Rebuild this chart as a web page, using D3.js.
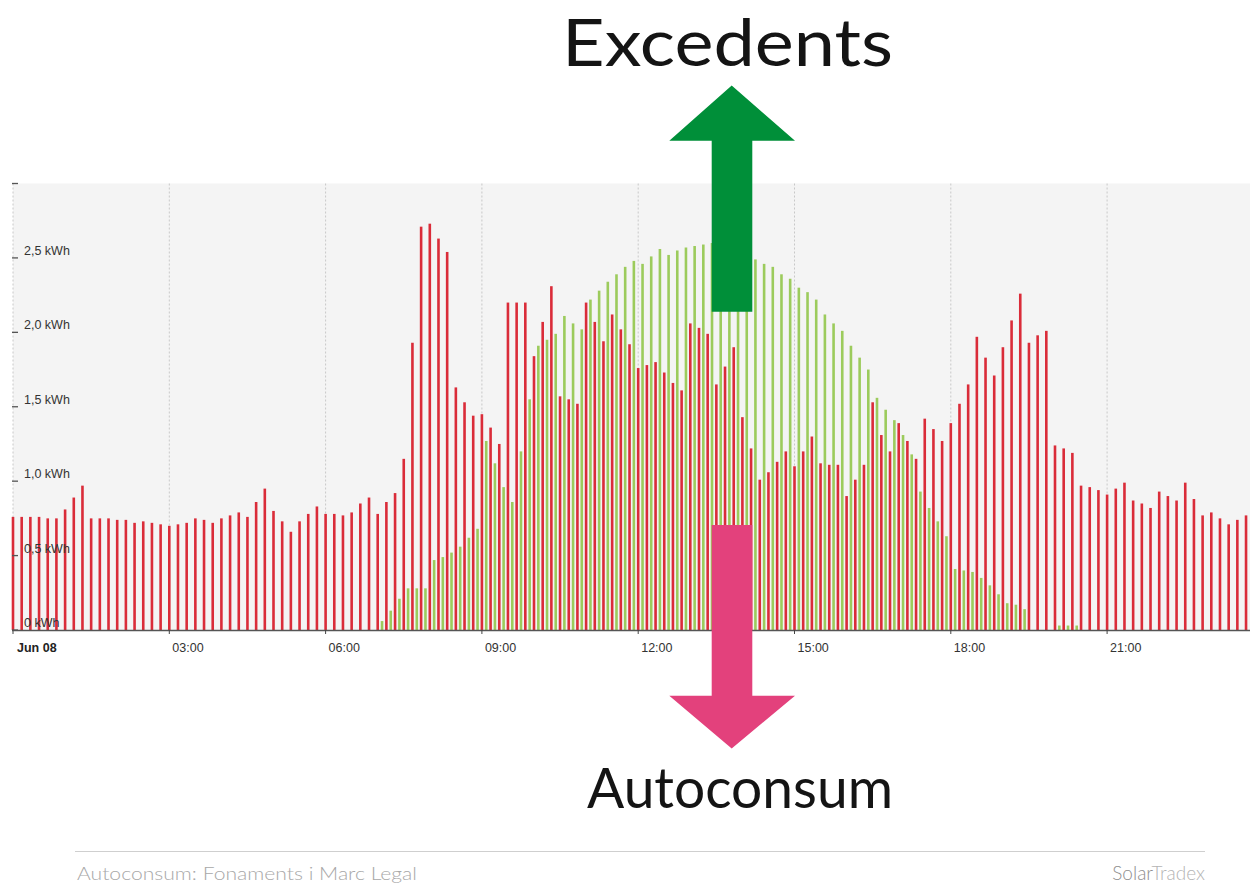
<!DOCTYPE html>
<html>
<head>
<meta charset="utf-8">
<script src="https://cdn.jsdelivr.net/npm/d3@7"></script>
<style>
  html, body { margin: 0; padding: 0; background: #ffffff; }
  svg { display: block; }
</style>
</head>
<body>
<svg id="chart" width="1250" height="885"></svg>
<script>
// ---------------- DATA (kWh per 10-minute slot, Jun 08) ----------------
// Consumption (red), slot 0 = 00:00, slot 143 = 23:50
const consumption = [
  0.76, 0.76, 0.76, 0.76, 0.75, 0.75, 0.81, 0.89, 0.97, 0.75, 0.75, 0.75, 0.74, 0.74, 0.72, 0.73, 0.72, 0.71,
  0.70, 0.71, 0.72, 0.75, 0.74, 0.72, 0.75, 0.77, 0.79, 0.76, 0.86, 0.95, 0.80, 0.73, 0.66, 0.73, 0.78, 0.83,
  0.78, 0.78, 0.77, 0.79, 0.85, 0.89, 0.78, 0.86, 0.92, 1.15, 1.93, 2.71, 2.73, 2.63, 2.54, 1.63, 1.53, 1.44,
  1.45, 1.36, 1.25, 2.20, 2.20, 2.20, 1.84, 2.07, 2.31, 1.57, 1.55, 1.52, 2.20, 2.07, 1.94, 2.12, 2.02, 1.92,
  1.76, 1.78, 1.80, 1.73, 1.66, 1.61, 2.06, 2.03, 1.99, 1.65, 1.77, 1.90, 1.43, 1.22, 1.01, 1.06, 1.13, 1.20,
  1.10, 1.20, 1.30, 1.12, 1.11, 1.11, 0.90, 1.01, 1.11, 1.53, 1.31, 1.20, 1.39, 1.27, 1.15, 1.42, 1.35, 1.27,
  1.39, 1.52, 1.65, 1.97, 1.83, 1.71, 1.90, 2.08, 2.26, 1.93, 1.98, 2.01, 1.24, 1.22, 1.19, 0.97, 0.96, 0.94,
  0.91, 0.95, 0.99, 0.87, 0.85, 0.82, 0.93, 0.90, 0.87, 0.99, 0.88, 0.77, 0.79, 0.75, 0.71, 0.74, 0.77, 0.76
];
// Solar production (green), same slots
const production = [
  0, 0, 0, 0, 0, 0, 0, 0, 0, 0, 0, 0, 0, 0, 0, 0, 0, 0,
  0, 0, 0, 0, 0, 0, 0, 0, 0, 0, 0, 0, 0, 0, 0, 0, 0, 0,
  0, 0, 0, 0, 0, 0, 0.06, 0.13, 0.21, 0.28, 0.28, 0.28, 0.47, 0.49, 0.52, 0.56, 0.62, 0.68,
  1.27, 1.12, 0.96, 0.86, 1.20, 1.55, 1.91, 1.95, 1.99, 2.11, 2.06, 2.02, 2.22, 2.28, 2.34, 2.39, 2.44, 2.48,
  2.46, 2.51, 2.56, 2.52, 2.55, 2.57, 2.58, 2.59, 2.60, 2.59, 2.58, 2.56, 2.53, 2.49, 2.46, 2.44, 2.39, 2.36,
  2.30, 2.27, 2.22, 2.12, 2.06, 2.01, 1.91, 1.83, 1.75, 1.56, 1.48, 1.41, 1.31, 1.18, 0.93, 0.82, 0.73, 0.63,
  0.41, 0.40, 0.39, 0.35, 0.30, 0.24, 0.18, 0.17, 0.14, 0, 0, 0, 0.03, 0.03, 0.03, 0, 0, 0,
  0, 0, 0, 0, 0, 0, 0, 0, 0, 0, 0, 0, 0, 0, 0, 0, 0, 0
];
const slotHours = 10 / 60;
const xTickHours = [0, 3, 6, 9, 12, 15, 18, 21];
const xTickLabels = ["Jun 08", "03:00", "06:00", "09:00", "12:00", "15:00", "18:00", "21:00"];
const yTickValues = [0, 0.5, 1.0, 1.5, 2.0, 2.5, 3.0];
const yTickLabels = ["0 kWh", "0,5 kWh", "1,0 kWh", "1,5 kWh", "2,0 kWh", "2,5 kWh", ""];
const titleTop = "Excedents";
const titleBottom = "Autoconsum";
const footerLeft = "Autoconsum: Fonaments i Marc Legal";
const footerRightA = "Solar";
const footerRightB = "Tradex";

// ---------------- CHART ----------------
const W = 1250, H = 885;
const svg = d3.select("#chart");
const plotLeft = 13, plotRight = 1250, plotBottom = 630, plotTop = 183.5;
const x = d3.scaleLinear().domain([0, 24]).range([plotLeft, plotLeft + 8 * 156.3]);
const y = d3.scaleLinear().domain([0, 3]).range([plotBottom, plotTop]);

svg.append("rect").attr("width", W).attr("height", H).attr("fill", "#ffffff");

// plot background
svg.append("rect")
  .attr("x", plotLeft).attr("y", y(3))
  .attr("width", plotRight - plotLeft).attr("height", y(0) - y(3))
  .attr("fill", "#f4f4f4");

// vertical dotted gridlines
svg.append("g").selectAll("line").data(xTickHours).join("line")
  .attr("x1", d => x(d)).attr("x2", d => x(d))
  .attr("y1", y(3)).attr("y2", y(0))
  .attr("stroke", "#c8c8c8").attr("stroke-width", 1)
  .attr("stroke-dasharray", "2,2");

svg.append("defs").append("clipPath").attr("id", "plotclip")
  .append("rect").attr("x", 0).attr("y", 0).attr("width", plotRight).attr("height", H);

const bars = svg.append("g").attr("clip-path", "url(#plotclip)");
const bw = 2.6;

bars.append("g").selectAll("rect").data(production.map((v, i) => ({ v, i })).filter(d => d.v > 0)).join("rect")
  .attr("x", d => x((d.i + 0.5) * slotHours) - bw / 2)
  .attr("y", d => y(d.v))
  .attr("width", bw)
  .attr("height", d => y(0) - y(d.v))
  .attr("fill", "#9ccb5c");

bars.append("g").selectAll("rect").data(consumption.map((v, i) => ({ v, i }))).join("rect")
  .attr("x", d => x(d.i * slotHours) - bw / 2)
  .attr("y", d => y(d.v))
  .attr("width", bw)
  .attr("height", d => y(0) - y(d.v))
  .attr("fill", "#da2c39");

// x axis line and ticks
svg.append("line")
  .attr("x1", plotLeft - 1).attr("x2", plotRight)
  .attr("y1", y(0) + 0.5).attr("y2", y(0) + 0.5)
  .attr("stroke", "#555").attr("stroke-width", 1.5);
svg.append("g").selectAll("line").data(xTickHours).join("line")
  .attr("x1", d => x(d)).attr("x2", d => x(d))
  .attr("y1", y(0)).attr("y2", y(0) + 4)
  .attr("stroke", "#444").attr("stroke-width", 1);
svg.append("g").selectAll("text").data(xTickHours).join("text")
  .attr("x", (d, i) => x(d) + (i === 0 ? 4 : 3))
  .attr("y", y(0) + 22)
  .attr("font-family", "'Liberation Sans', Arial, sans-serif")
  .attr("font-size", 12.5)
  .attr("font-weight", (d, i) => i === 0 ? "bold" : "normal")
  .attr("fill", (d, i) => i === 0 ? "#222" : "#333")
  .text((d, i) => xTickLabels[i]);

// y ticks (small dashes) and labels above them
svg.append("g").selectAll("line").data(yTickValues).join("line")
  .attr("x1", 12).attr("x2", 18)
  .attr("y1", d => y(d)).attr("y2", d => y(d))
  .attr("stroke", "#555").attr("stroke-width", 1.3);
svg.append("g").selectAll("text").data(yTickValues).join("text")
  .attr("x", 24)
  .attr("y", d => y(d) - 3)
  .attr("font-family", "'Liberation Sans', Arial, sans-serif")
  .attr("font-size", 12.5)
  .attr("fill", "#333")
  .text((d, i) => yTickLabels[i]);

// ---------------- ANNOTATIONS ----------------
// green "up" arrow
svg.append("path")
  .attr("d", "M731.7,85.5 L795,140.7 L752.3,140.7 L752.3,311.7 L711.7,311.7 L711.7,140.7 L669.3,140.7 Z")
  .attr("fill", "#008f39");
// pink "down" arrow
svg.append("path")
  .attr("d", "M711.7,525 L752.3,525 L752.3,695.7 L795,695.7 L731.7,748.5 L669.3,695.7 L711.7,695.7 Z")
  .attr("fill", "#e3417c");

svg.append("text")
  .attr("x", 562).attr("y", 66)
  .attr("font-family", "Lato, 'Noto Sans', sans-serif")
  .attr("font-size", 66)
  .attr("font-weight", 400)
  .attr("fill", "#141414")
  .attr("textLength", 331).attr("lengthAdjust", "spacingAndGlyphs")
  .text(titleTop);

svg.append("text")
  .attr("x", 587).attr("y", 808)
  .attr("font-family", "Lato, 'Noto Sans', sans-serif")
  .attr("font-size", 57)
  .attr("font-weight", 400)
  .attr("fill", "#141414")
  .attr("textLength", 306).attr("lengthAdjust", "spacingAndGlyphs")
  .text(titleBottom);

// ---------------- FOOTER ----------------
svg.append("line")
  .attr("x1", 75).attr("x2", 1205).attr("y1", 851.5).attr("y2", 851.5)
  .attr("stroke", "#cfcfcf").attr("stroke-width", 1.2);

svg.append("text")
  .attr("x", 77).attr("y", 880)
  .attr("font-family", "Lato, 'Open Sans', sans-serif")
  .attr("font-size", 18)
  .attr("font-weight", 300)
  .attr("fill", "#a8a8a8")
  .attr("textLength", 340).attr("lengthAdjust", "spacingAndGlyphs")
  .text(footerLeft);

const fr = svg.append("text")
  .attr("x", 1205).attr("y", 880)
  .attr("text-anchor", "end")
  .attr("font-family", "Lato, 'Open Sans', sans-serif")
  .attr("font-size", 19)
  .attr("font-weight", 300);
fr.append("tspan").attr("fill", "#8e8e8e").text(footerRightA);
fr.append("tspan").attr("fill", "#b4b4b4").text(footerRightB);
</script>
</body>
</html>
